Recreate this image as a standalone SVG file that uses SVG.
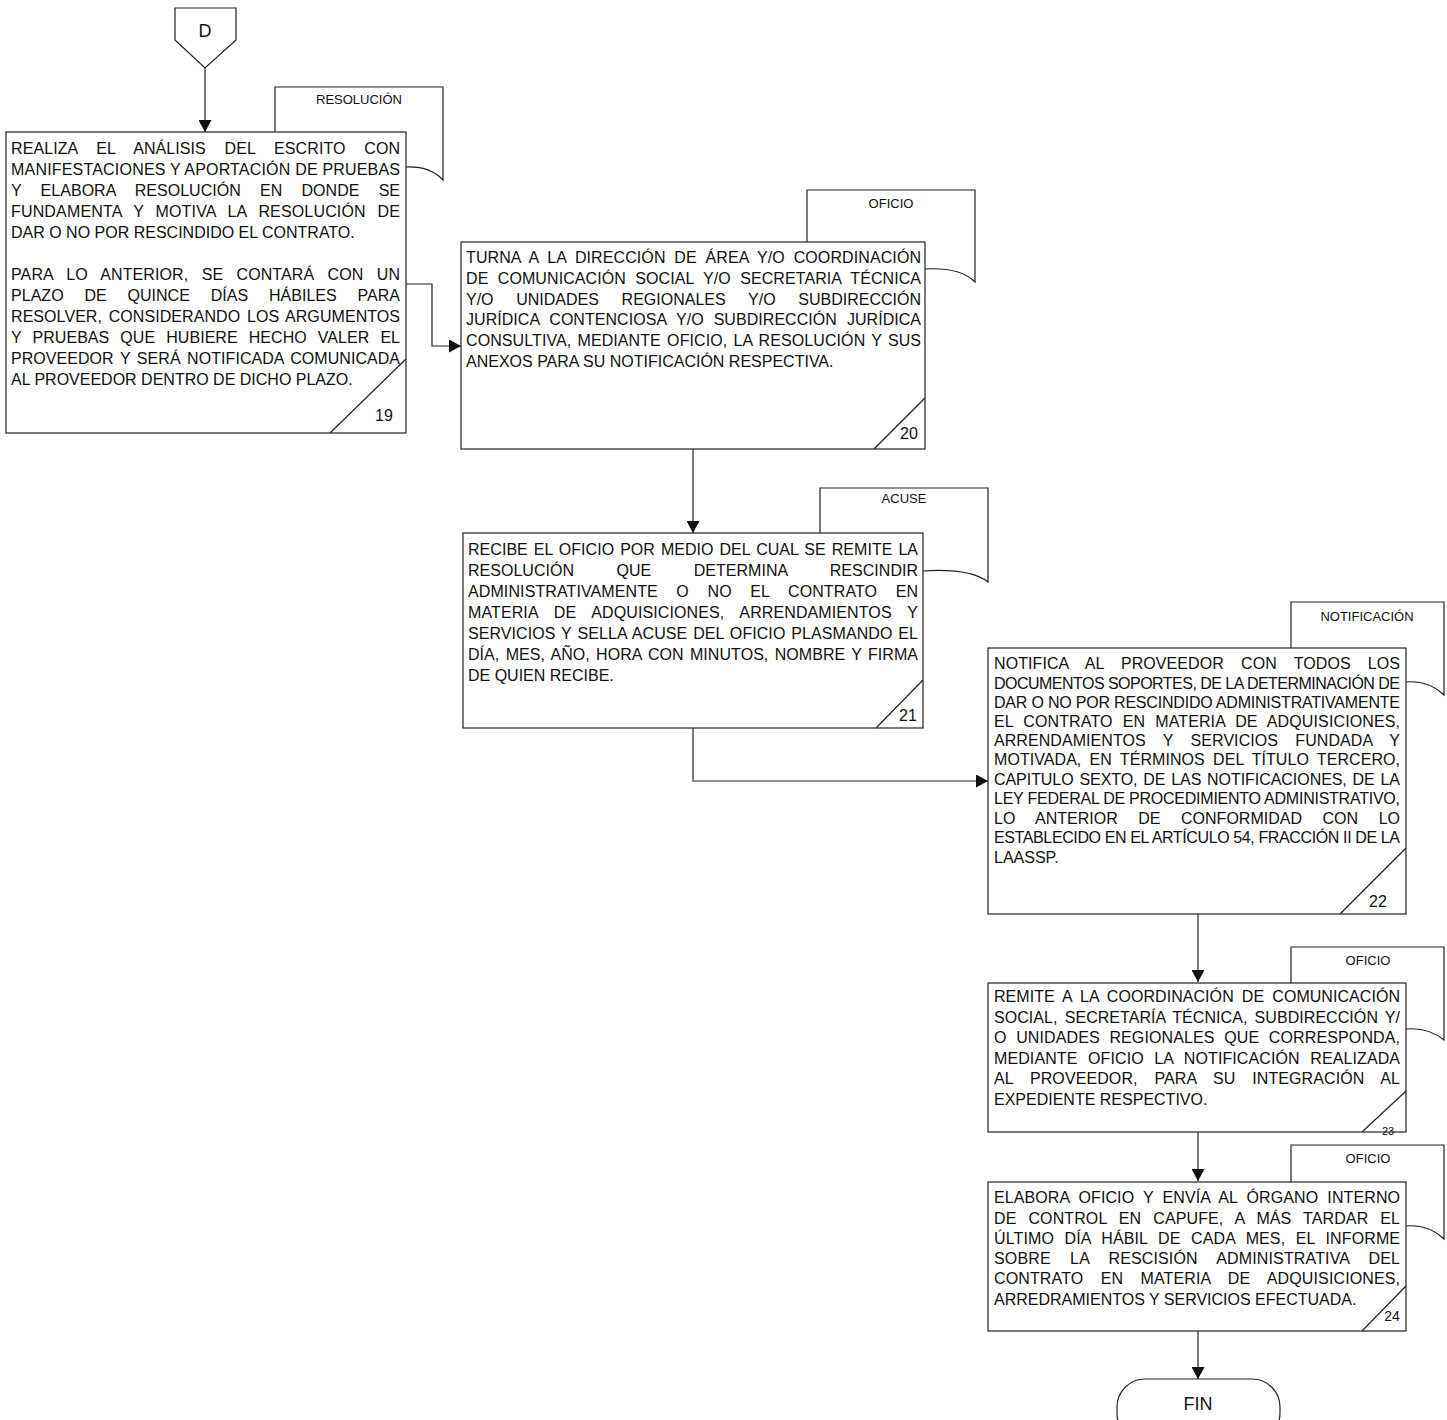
<svg xmlns="http://www.w3.org/2000/svg" width="1447" height="1420" viewBox="0 0 1447 1420">
<defs>
<style>
.bx{fill:#fff;stroke:#222;stroke-width:1.2}
.ln{fill:none;stroke:#222;stroke-width:1.2}
.t{font-family:"Liberation Sans",Arial,sans-serif;font-size:16px;fill:#111}
.lb{font-family:"Liberation Sans",Arial,sans-serif;font-size:13px;fill:#111;text-anchor:middle}
.n{font-family:"Liberation Sans",Arial,sans-serif;font-size:16px;fill:#111;text-anchor:middle}
</style>
<marker id="ah" viewBox="0 0 12 13" refX="12" refY="6.5" markerWidth="12" markerHeight="13" markerUnits="userSpaceOnUse" orient="auto">
<path d="M0,0 L12,6.5 L0,13 z" fill="#111"/>
</marker>
</defs>
<rect width="1447" height="1420" fill="#fff"/>

<g id="connectors">
<path class="ln" d="M205,68 V132" marker-end="url(#ah)"/>
<path class="ln" d="M406,284 H432 V346 H461" marker-end="url(#ah)"/>
<path class="ln" d="M693,449 V533" marker-end="url(#ah)"/>
<path class="ln" d="M693,728 V781 H988" marker-end="url(#ah)"/>
<path class="ln" d="M1198,914 V982" marker-end="url(#ah)"/>
<path class="ln" d="M1198,1132 V1181" marker-end="url(#ah)"/>
<path class="ln" d="M1198,1331 V1379" marker-end="url(#ah)"/>
</g>

<g id="connector-D">
<path class="bx" d="M175,8 H236 V40 L205,68 L175,40 Z"/>
<text class="n" x="205" y="37" style="font-size:18px">D</text>
</g>

<g id="step19">
<path class="ln" d="M275,132 V87 H443 V180 Q430,166 406,167"/>
<text class="lb" x="359" y="104">RESOLUCIÓN</text>
<rect class="bx" x="6" y="132" width="400" height="301"/>
<path class="ln" d="M330,433 L406,359"/>
<text class="t" x="11" y="154" textLength="389" lengthAdjust="spacing" style="word-spacing:14.2px">REALIZA EL ANÁLISIS DEL ESCRITO CON</text>
<text class="t" x="11" y="175" textLength="389" lengthAdjust="spacing">MANIFESTACIONES Y APORTACIÓN DE PRUEBAS</text>
<text class="t" x="11" y="196" textLength="389" lengthAdjust="spacing" style="word-spacing:14.7px">Y ELABORA RESOLUCIÓN EN DONDE SE</text>
<text class="t" x="11" y="217" textLength="389" lengthAdjust="spacing" style="word-spacing:7.2px">FUNDAMENTA Y MOTIVA LA RESOLUCIÓN DE</text>
<text class="t" x="11" y="238">DAR O NO POR RESCINDIDO EL CONTRATO.</text>
<text class="t" x="11" y="280" textLength="389" lengthAdjust="spacing" style="word-spacing:8.7px">PARA LO ANTERIOR, SE CONTARÁ CON UN</text>
<text class="t" x="11" y="301" textLength="389" lengthAdjust="spacing" style="word-spacing:16.3px">PLAZO DE QUINCE DÍAS HÁBILES PARA</text>
<text class="t" x="11" y="322" textLength="389" lengthAdjust="spacing" style="word-spacing:2.2px">RESOLVER, CONSIDERANDO LOS ARGUMENTOS</text>
<text class="t" x="11" y="343" textLength="389" lengthAdjust="spacing" style="word-spacing:6.6px">Y PRUEBAS QUE HUBIERE HECHO VALER EL</text>
<text class="t" x="11" y="364" textLength="389" lengthAdjust="spacing" style="word-spacing:2px">PROVEEDOR Y SERÁ NOTIFICADA COMUNICADA</text>
<text class="t" x="11" y="385">AL PROVEEDOR DENTRO DE DICHO PLAZO.</text>
<text class="n" x="384" y="421">19</text>
</g>

<g id="step20">
<path class="ln" d="M807,242 V190 H975 V282 Q960,267 925,269"/>
<text class="lb" x="891" y="208">OFICIO</text>
<rect class="bx" x="461" y="242" width="464" height="207"/>
<path class="ln" d="M874,449 L925,398"/>
<text class="t" x="466" y="263" textLength="455" lengthAdjust="spacing" style="word-spacing:4.2px">TURNA A LA DIRECCIÓN DE ÁREA Y/O COORDINACIÓN</text>
<text class="t" x="466" y="284" textLength="455" lengthAdjust="spacing" style="word-spacing:4.9px">DE COMUNICACIÓN SOCIAL Y/O SECRETARIA TÉCNICA</text>
<text class="t" x="466" y="305" textLength="455" lengthAdjust="spacing" style="word-spacing:18.2px">Y/O UNIDADES REGIONALES Y/O SUBDIRECCIÓN</text>
<text class="t" x="466" y="325" textLength="455" lengthAdjust="spacing" style="word-spacing:5.5px">JURÍDICA CONTENCIOSA Y/O SUBDIRECCIÓN JURÍDICA</text>
<text class="t" x="466" y="346" textLength="455" lengthAdjust="spacing" style="word-spacing:1.7px">CONSULTIVA, MEDIANTE OFICIO, LA RESOLUCIÓN Y SUS</text>
<text class="t" x="466" y="367">ANEXOS PARA SU NOTIFICACIÓN RESPECTIVA.</text>
<text class="n" x="909" y="439">20</text>
</g>

<g id="step21">
<path class="ln" d="M820,533 V488 H988 V582 Q970,568 923,571"/>
<text class="lb" x="904" y="503">ACUSE</text>
<rect class="bx" x="463" y="533" width="460" height="195"/>
<path class="ln" d="M876,728 L923,680"/>
<text class="t" x="468" y="555" textLength="450" lengthAdjust="spacing" style="word-spacing:1.5px">RECIBE EL OFICIO POR MEDIO DEL CUAL SE REMITE LA</text>
<text class="t" x="468" y="576" textLength="450" lengthAdjust="spacing" style="word-spacing:38px">RESOLUCIÓN QUE DETERMINA RESCINDIR</text>
<text class="t" x="468" y="597" textLength="450" lengthAdjust="spacing" style="word-spacing:14px">ADMINISTRATIVAMENTE O NO EL CONTRATO EN</text>
<text class="t" x="468" y="618" textLength="450" lengthAdjust="spacing" style="word-spacing:11.4px">MATERIA DE ADQUISICIONES, ARRENDAMIENTOS Y</text>
<text class="t" x="468" y="639" textLength="450" lengthAdjust="spacing" style="word-spacing:1.4px">SERVICIOS Y SELLA ACUSE DEL OFICIO PLASMANDO EL</text>
<text class="t" x="468" y="660" textLength="450" lengthAdjust="spacing" style="word-spacing:1.8px">DÍA, MES, AÑO, HORA CON MINUTOS, NOMBRE Y FIRMA</text>
<text class="t" x="468" y="681">DE QUIEN RECIBE.</text>
<text class="n" x="908" y="721">21</text>
</g>

<g id="step22">
<path class="ln" d="M1291,648 V602 H1444 V695 Q1428,680 1406,682"/>
<text class="lb" x="1367" y="621">NOTIFICACIÓN</text>
<rect class="bx" x="988" y="648" width="418" height="266"/>
<path class="ln" d="M1340,914 L1406,848"/>
<text class="t" x="994" y="669" textLength="406" lengthAdjust="spacing" style="word-spacing:12.6px">NOTIFICA AL PROVEEDOR CON TODOS LOS</text>
<text class="t" x="994" y="689" textLength="406" lengthAdjust="spacing">DOCUMENTOS SOPORTES, DE LA DETERMINACIÓN DE</text>
<text class="t" x="994" y="708" textLength="406" lengthAdjust="spacing">DAR O NO POR RESCINDIDO ADMINISTRATIVAMENTE</text>
<text class="t" x="994" y="727" textLength="406" lengthAdjust="spacing" style="word-spacing:5.5px">EL CONTRATO EN MATERIA DE ADQUISICIONES,</text>
<text class="t" x="994" y="746" textLength="406" lengthAdjust="spacing" style="word-spacing:12.8px">ARRENDAMIENTOS Y SERVICIOS FUNDADA Y</text>
<text class="t" x="994" y="765" textLength="406" lengthAdjust="spacing" style="word-spacing:3.7px">MOTIVADA, EN TÉRMINOS DEL TÍTULO TERCERO,</text>
<text class="t" x="994" y="785" textLength="406" lengthAdjust="spacing" style="word-spacing:1.4px">CAPITULO SEXTO, DE LAS NOTIFICACIONES, DE LA</text>
<text class="t" x="994" y="804" textLength="406" lengthAdjust="spacing">LEY FEDERAL DE PROCEDIMIENTO ADMINISTRATIVO,</text>
<text class="t" x="994" y="824" textLength="406" lengthAdjust="spacing" style="word-spacing:16px">LO ANTERIOR DE CONFORMIDAD CON LO</text>
<text class="t" x="994" y="843" textLength="406" lengthAdjust="spacing">ESTABLECIDO EN EL ARTÍCULO 54, FRACCIÓN II DE LA</text>
<text class="t" x="994" y="863">LAASSP.</text>
<text class="n" x="1378" y="907">22</text>
</g>

<g id="step23">
<path class="ln" d="M1291,983 V947 H1444 V1040 Q1428,1027 1406,1029"/>
<text class="lb" x="1368" y="965">OFICIO</text>
<rect class="bx" x="988" y="983" width="418" height="149"/>
<text class="n" x="1388" y="1135" style="font-size:11px">23</text>
<path class="ln" d="M1362,1132 L1406,1091"/>
<text class="t" x="994" y="1002" textLength="406" lengthAdjust="spacing" style="word-spacing:3.6px">REMITE A LA COORDINACIÓN DE COMUNICACIÓN</text>
<text class="t" x="994" y="1023" textLength="406" lengthAdjust="spacing" style="word-spacing:2.6px">SOCIAL, SECRETARÍA TÉCNICA, SUBDIRECCIÓN Y/</text>
<text class="t" x="994" y="1043" textLength="406" lengthAdjust="spacing" style="word-spacing:5px">O UNIDADES REGIONALES QUE CORRESPONDA,</text>
<text class="t" x="994" y="1064" textLength="406" lengthAdjust="spacing" style="word-spacing:6px">MEDIANTE OFICIO LA NOTIFICACIÓN REALIZADA</text>
<text class="t" x="994" y="1084" textLength="406" lengthAdjust="spacing" style="word-spacing:12.2px">AL PROVEEDOR, PARA SU INTEGRACIÓN AL</text>
<text class="t" x="994" y="1105">EXPEDIENTE RESPECTIVO.</text>
</g>

<g id="step24">
<path class="ln" d="M1291,1182 V1145 H1444 V1239 Q1428,1224 1406,1226"/>
<text class="lb" x="1368" y="1163">OFICIO</text>
<rect class="bx" x="988" y="1182" width="418" height="149"/>
<path class="ln" d="M1362,1331 L1406,1286"/>
<text class="t" x="994" y="1203" textLength="406" lengthAdjust="spacing" style="word-spacing:4.5px">ELABORA OFICIO Y ENVÍA AL ÓRGANO INTERNO</text>
<text class="t" x="994" y="1224" textLength="406" lengthAdjust="spacing" style="word-spacing:7.5px">DE CONTROL EN CAPUFE, A MÁS TARDAR EL</text>
<text class="t" x="994" y="1244" textLength="406" lengthAdjust="spacing" style="word-spacing:6px">ÚLTIMO DÍA HÁBIL DE CADA MES, EL INFORME</text>
<text class="t" x="994" y="1264" textLength="406" lengthAdjust="spacing" style="word-spacing:14.8px">SOBRE LA RESCISIÓN ADMINISTRATIVA DEL</text>
<text class="t" x="994" y="1284" textLength="406" lengthAdjust="spacing" style="word-spacing:12.8px">CONTRATO EN MATERIA DE ADQUISICIONES,</text>
<text class="t" x="994" y="1305">ARREDRAMIENTOS Y SERVICIOS EFECTUADA.</text>
<text class="n" x="1392" y="1321" style="font-size:14px">24</text>
</g>

<g id="fin">
<rect class="bx" x="1117" y="1379" width="163" height="62" rx="28" ry="28"/>
<text class="n" x="1198" y="1410" style="font-size:18px">FIN</text>
</g>
</svg>
